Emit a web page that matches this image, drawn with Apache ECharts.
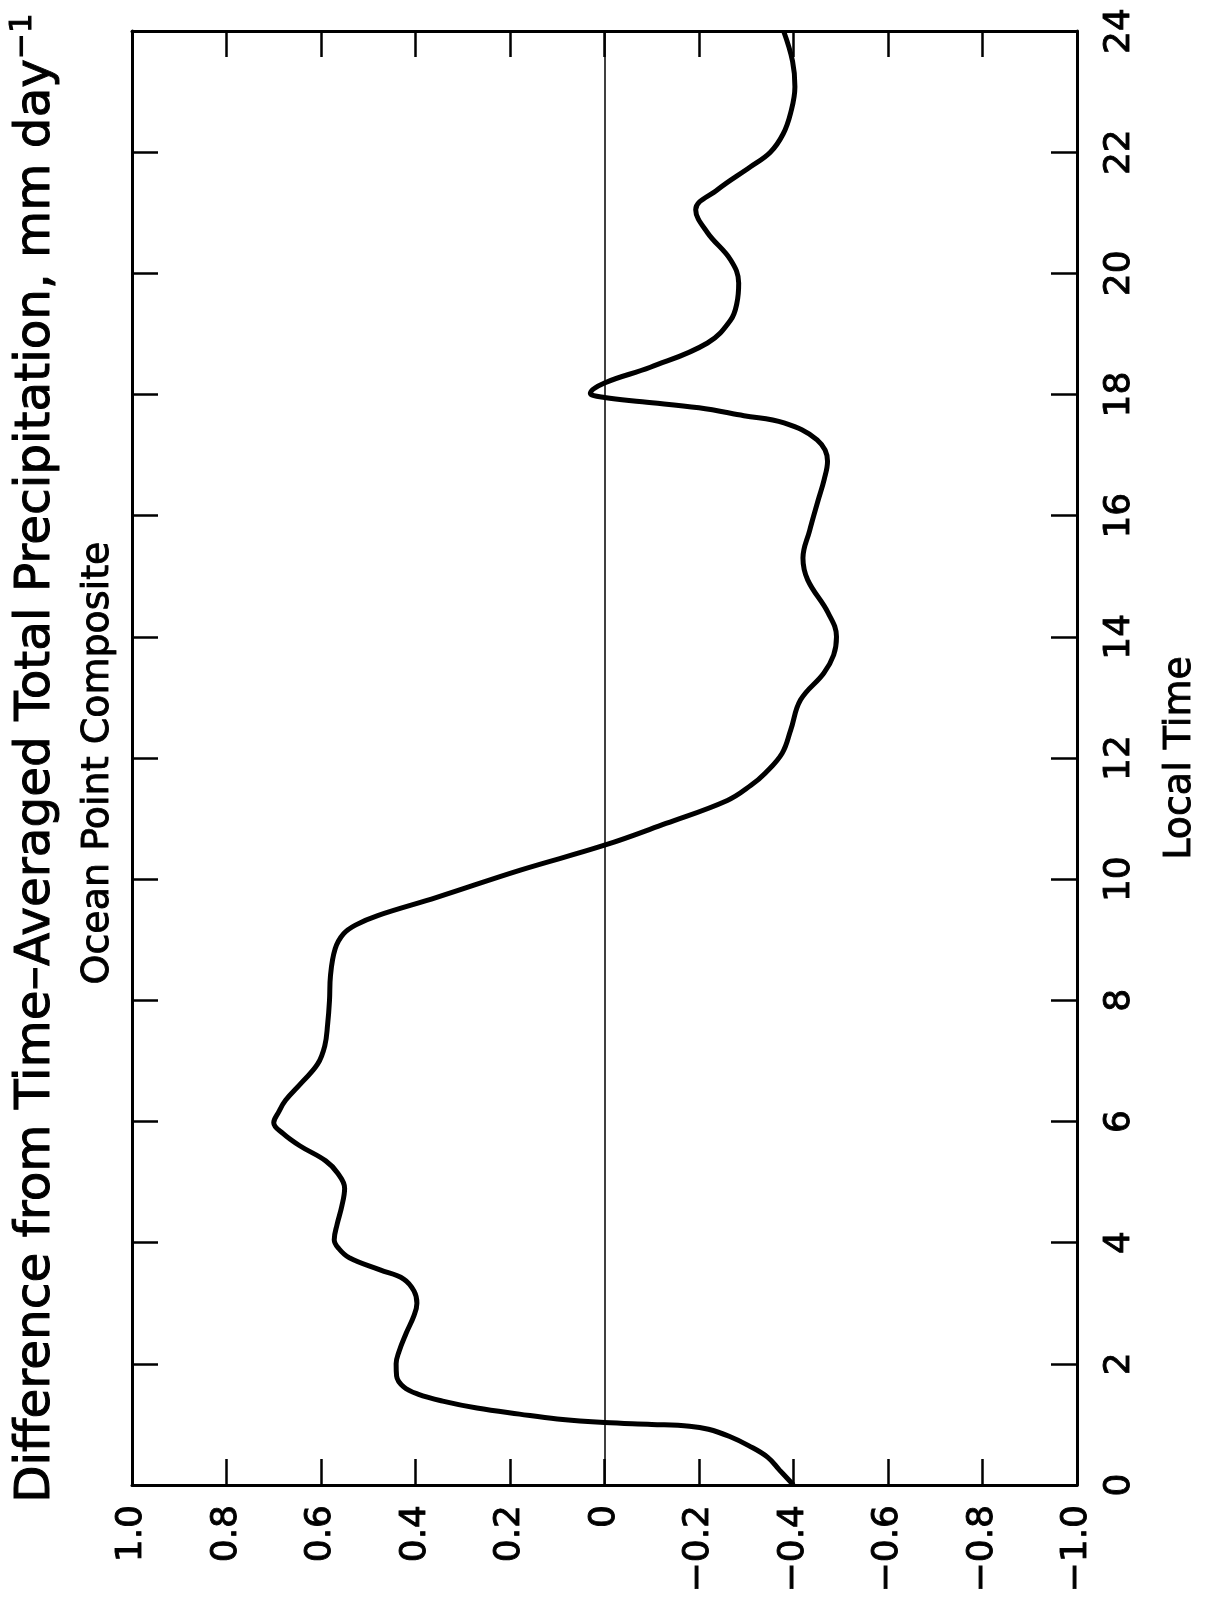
<!DOCTYPE html>
<html>
<head>
<meta charset="utf-8">
<script src="https://cdn.jsdelivr.net/npm/echarts@6/dist/echarts.min.js"></script>
<style>
  html, body { margin: 0; padding: 0; background: #fff; }
  #chart { width: 1208px; height: 1600px; }
</style>
</head>
<body>
<div id="chart"></div>
<script>
// ---- Data ----
const localTime = [
  0.00, 0.25, 0.46, 0.65, 0.80, 0.92, 0.97, 1.00, 1.03, 1.09,
  1.17, 1.27, 1.38, 1.50, 1.62, 1.80, 2.00, 2.20, 2.50, 2.80,
  3.00, 3.20, 3.40, 3.55, 3.75, 3.90, 4.05, 4.30, 4.60, 4.90,
  5.15, 5.35, 5.60, 5.80, 5.98, 6.15, 6.35, 6.65, 6.95, 7.25,
  7.60, 8.00, 8.40, 8.85, 9.10, 9.25, 9.40, 9.70, 10.15, 10.56,
  10.92, 11.30, 11.55, 11.75, 12.08, 12.46, 12.96, 13.40, 13.70, 14.00,
  14.40, 14.94, 15.30, 15.75, 16.25, 16.60, 16.90, 17.25, 17.53, 17.65,
  17.78, 17.88, 17.95, 18.02, 18.19, 18.45, 18.85, 19.23, 19.50, 19.84,
  20.22, 20.67, 21.05, 21.38, 21.76, 22.00, 22.30, 22.65, 23.08, 23.50, 24.00
];
const precipDiff = [
  -0.400, -0.370, -0.345, -0.305, -0.265, -0.220, -0.180, -0.100, 0.000, 0.100,
  0.180, 0.270, 0.340, 0.395, 0.425, 0.440, 0.441, 0.435, 0.420, 0.403,
  0.397, 0.403, 0.425, 0.475, 0.540, 0.562, 0.572, 0.566, 0.556, 0.550,
  0.565, 0.590, 0.645, 0.680, 0.700, 0.690, 0.675, 0.640, 0.607, 0.592,
  0.586, 0.582, 0.580, 0.570, 0.552, 0.525, 0.480, 0.355, 0.178, 0.000,
  -0.130, -0.260, -0.310, -0.340, -0.376, -0.394, -0.415, -0.464, -0.485, -0.491,
  -0.473, -0.430, -0.420, -0.434, -0.452, -0.465, -0.472, -0.450, -0.380, -0.295,
  -0.200, -0.080, 0.000, 0.030, 0.000, -0.097, -0.218, -0.267, -0.280, -0.284,
  -0.267, -0.218, -0.193, -0.239, -0.309, -0.351, -0.378, -0.394, -0.403, -0.398, -0.379
];
const valueTicks = [1.0, 0.8, 0.6, 0.4, 0.2, 0, -0.2, -0.4, -0.6, -0.8, -1.0];
const valueTickLabels = ['1.0', '0.8', '0.6', '0.4', '0.2', '0', '\u22120.2', '\u22120.4', '\u22120.6', '\u22120.8', '\u22121.0'];
const timeTicks = [0, 2, 4, 6, 8, 10, 12, 14, 16, 18, 20, 22, 24];
const timeTickLabels = ['0', '2', '4', '6', '8', '10', '12', '14', '16', '18', '20', '22', '24'];
const titleText = 'Difference from Time\u2013Averaged Total Precipitation, mm day';
const titleSup = '\u22121';
const subtitleText = 'Ocean Point Composite';
const timeAxisName = 'Local Time';

// ---- Chart ----
const FONT = 'DejaVu Sans';
function labelFor(ticks, labels, v) {
  for (let i = 0; i < ticks.length; i++) {
    if (Math.abs(ticks[i] - v) < 1e-6) return labels[i];
  }
  return '';
}
const seriesData = localTime.map((t, i) => [precipDiff[i], t]);

const frameLine = { show: true, onZero: false, lineStyle: { color: '#000', width: 3 } };
const innerTick = { show: true, inside: true, length: 26, lineStyle: { color: '#000', width: 2.5 } };
const labelStyle = {
  fontSize: 36, fontFamily: FONT, color: '#000',
  textBorderColor: '#000', textBorderWidth: 0.9
};

const chart = echarts.init(document.getElementById('chart'), null, { renderer: 'canvas' });
chart.setOption({
  backgroundColor: '#ffffff',
  animation: false,
  textStyle: { fontFamily: FONT, color: '#000' },
  grid: { left: 132, right: 131, top: 31, bottom: 115, containLabel: false },
  xAxis: [
    {
      type: 'value', min: -1, max: 1, interval: 0.2, inverse: true, position: 'bottom',
      axisLine: frameLine, axisTick: innerTick, splitLine: { show: false },
      axisLabel: Object.assign({
        rotate: 90, margin: 20,
        formatter: v => labelFor(valueTicks, valueTickLabels, v)
      }, labelStyle)
    },
    {
      type: 'value', min: -1, max: 1, interval: 0.2, inverse: true, position: 'top',
      axisLine: frameLine, axisTick: innerTick, splitLine: { show: false },
      axisLabel: { show: false }
    }
  ],
  yAxis: [
    {
      type: 'value', min: 0, max: 24, interval: 2, position: 'right',
      axisLine: frameLine, axisTick: innerTick, splitLine: { show: false },
      axisLabel: Object.assign({
        rotate: 90, margin: 25,
        formatter: v => labelFor(timeTicks, timeTickLabels, v)
      }, labelStyle),
      name: timeAxisName, nameLocation: 'middle', nameRotate: 90, nameGap: 84,
      nameTextStyle: { fontSize: 38, fontFamily: FONT, color: '#000', textBorderColor: '#000', textBorderWidth: 0.9 }
    },
    {
      type: 'value', min: 0, max: 24, interval: 2, position: 'left',
      axisLine: frameLine, axisTick: innerTick, splitLine: { show: false },
      axisLabel: { show: false }
    }
  ],
  graphic: [
    {
      type: 'text', x: 36, y: 758, rotation: Math.PI / 2, silent: true,
      style: {
        text: '{a|' + titleText + '}{s|' + titleSup + '}',
        align: 'center', verticalAlign: 'middle',
        textAlign: 'center', textVerticalAlign: 'middle',
        fill: '#000',
        rich: {
          a: { fontSize: 48.5, fontFamily: FONT, fill: '#000', stroke: '#000', lineWidth: 1, lineHeight: 58, verticalAlign: 'middle' },
          s: { fontSize: 31, fontFamily: FONT, fill: '#000', stroke: '#000', lineWidth: 1, lineHeight: 31, verticalAlign: 'top' }
        }
      }
    },
    {
      type: 'text', x: 98, y: 763, rotation: Math.PI / 2, silent: true,
      style: {
        text: subtitleText,
        font: '38px "DejaVu Sans"',
        align: 'center', verticalAlign: 'middle',
        textAlign: 'center', textVerticalAlign: 'middle',
        fill: '#000', stroke: '#000', lineWidth: 0.9
      }
    }
  ],
  series: [
    {
      type: 'line', xAxisIndex: 0, yAxisIndex: 0,
      data: seriesData,
      showSymbol: false, symbol: 'none',
      smooth: 0.4,
      lineStyle: { color: '#000', width: 5 },
      z: 3,
      markLine: {
        silent: true, symbol: ['none', 'none'],
        label: { show: false },
        lineStyle: { color: '#000', width: 1.5, type: 'solid' },
        data: [{ xAxis: 0 }]
      }
    }
  ]
});
</script>
</body>
</html>
